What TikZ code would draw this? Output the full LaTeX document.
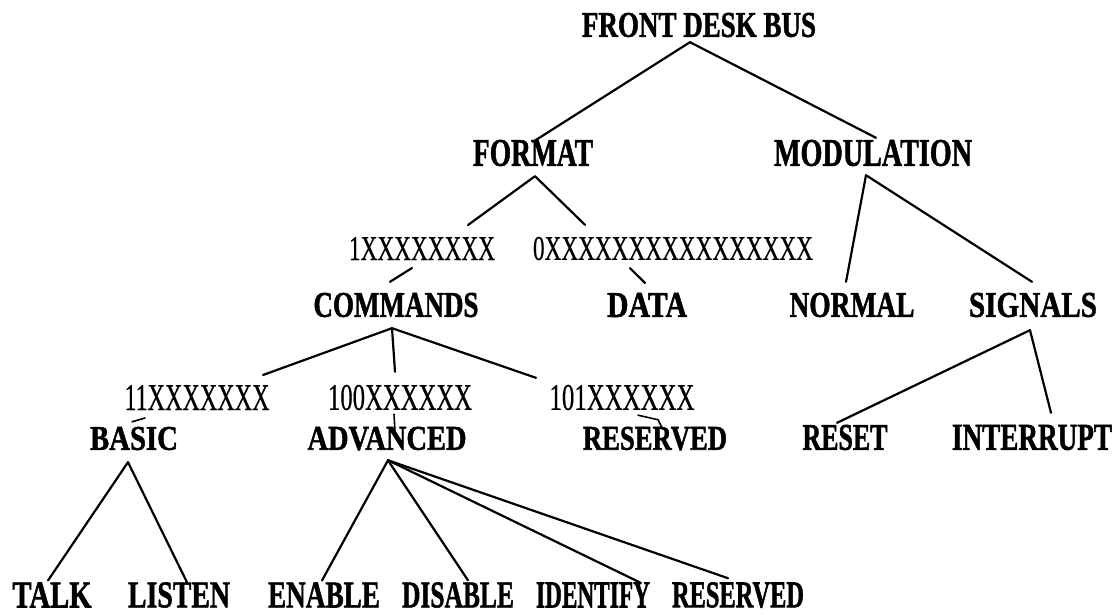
\documentclass[tikz,border=0pt]{standalone}
\usepackage{fontspec}
\setmainfont{Liberation Serif}[BoldFeatures={FakeBold=1.5}]
\newfontfamily\codefont{Liberation Serif}[FakeBold=0.6]
\usepackage{graphicx}
\newcommand{\lb}[3]{\resizebox{#1pt}{#2pt}{\bfseries #3}}
\newcommand{\cd}[3]{\resizebox{#1pt}{#2pt}{\codefont #3}}
\tikzset{
  lab/.style={inner sep=0pt, outer sep=0pt, anchor=center},
  conn/.style={line width=2.2pt, line cap=round, line join=round},
  tick/.style={line width=1.6pt, line cap=round, line join=round}
}
\begin{document}
\begin{tikzpicture}[x=1pt,y=-1pt]
\path[use as bounding box] (0,0) rectangle (1119,614);
\fill[white] (0,0) rectangle (1119,614);
% level 0
\node[lab] (FDB) at (699,25) {\lb{234}{24}{FRONT DESK BUS}};
% level 1
\node[lab] (FORMAT) at (533,153) {\lb{120}{26}{FORMAT}};
\node[lab] (MOD) at (873,153) {\lb{198}{26}{MODULATION}};
% level 2 codes
\node[lab] (X1) at (422,248.5) {\cd{146}{23}{1XXXXXXXX}};
\node[lab] (X0) at (673,248.5) {\cd{280}{23}{0XXXXXXXXXXXXXXXX}};
% level 3
\node[lab] (CMD) at (396,305) {\lb{165}{24}{COMMANDS}};
\node[lab] (DATA) at (647,305) {\lb{80}{24}{DATA}};
\node[lab] (NORMAL) at (852,305) {\lb{125}{24}{NORMAL}};
\node[lab] (SIG) at (1033,305) {\lb{128}{24}{SIGNALS}};
% level 4 codes
\node[lab] (X11) at (197,397.5) {\cd{145}{25}{11XXXXXXX}};
\node[lab] (X100) at (400,397.5) {\cd{144}{25}{100XXXXXX}};
\node[lab] (X101) at (622,397.5) {\cd{145}{25}{101XXXXXX}};
% level 5
\node[lab] (BASIC) at (134,438.5) {\lb{88}{23}{BASIC}};
\node[lab] (ADV) at (387,438.5) {\lb{159}{23}{ADVANCED}};
\node[lab] (RES1) at (655,438.5) {\lb{144}{23}{RESERVED}};
\node[lab] (RESET) at (845,437.5) {\lb{85}{25}{RESET}};
\node[lab] (INT) at (1032,437.5) {\lb{160}{25}{INTERRUPT}};
% level 6
\node[lab] (TALK) at (52,595) {\lb{79}{25}{TALK}};
\node[lab] (LISTEN) at (179,595) {\lb{102}{25}{LISTEN}};
\node[lab] (ENABLE) at (324,595) {\lb{112}{25}{ENABLE}};
\node[lab] (DISABLE) at (458,595) {\lb{112}{25}{DISABLE}};
\node[lab] (IDENT) at (593,595) {\lb{114}{25}{IDENTIFY}};
\node[lab] (RES2) at (738,595) {\lb{132}{25}{RESERVED}};
% connectors
\draw[conn] ([shift={(0,2)}]FORMAT.north) -- ([shift={(-9,5)}]FDB.south) -- ([shift={(3,-2)}]MOD.north);
\draw[conn] ([shift={(46,-12)}]X1.north) -- ([shift={(2,10)}]FORMAT.south) -- ([shift={(-88,-12)}]X0.north);
\draw[conn] ([shift={(-10,8)}]X1.south) -- ([shift={(-6,-11)}]CMD.north);
\draw[conn] ([shift={(-43,8)}]X0.south) -- ([shift={(-2,-10)}]DATA.north);
\draw[conn] ([shift={(-6,-11)}]NORMAL.north) -- ([shift={(-7,9)}]MOD.south) -- ([shift={(-1,-11)}]SIG.north);
\draw[conn] ([shift={(66,-10)}]X11.north) -- ([shift={(-4,11)}]CMD.south) -- ([shift={(-86,-7)}]X101.north);
\draw[conn] ([shift={(-4,11)}]CMD.south) -- ([shift={(-5,-13)}]X100.north);
\draw[conn] ([shift={(-8,-2)}]RESET.north) -- ([shift={(-3,13)}]SIG.south) -- ([shift={(19,-12)}]INT.north);
\draw[conn] ([shift={(-4,-2)}]TALK.north) -- ([shift={(-6,12)}]BASIC.south) -- ([shift={(8,0)}]LISTEN.north);
\draw[conn] ([shift={(-2,-2)}]ENABLE.north) -- ([shift={(1,10)}]ADV.south) -- ([shift={(10,-2)}]DISABLE.north);
\draw[conn] ([shift={(1,10)}]ADV.south) -- ([shift={(47,0)}]IDENT.north);
\draw[conn] ([shift={(1,10)}]ADV.south) -- ([shift={(-10,-4)}]RES2.north);
% small ticks
\draw[tick] ([shift={(-52,8)}]X11.south) -- ([shift={(-2,-5)}]BASIC.north);
\draw[tick] ([shift={(-6,4)}]X100.south) -- ([shift={(8,5)}]ADV.north);
\draw[tick] ([shift={(16,5)}]X101.south) -- ([shift={(3,-7)}]RES1.north) -- ([shift={(7,1)}]RES1.north);
\end{tikzpicture}
\end{document}
